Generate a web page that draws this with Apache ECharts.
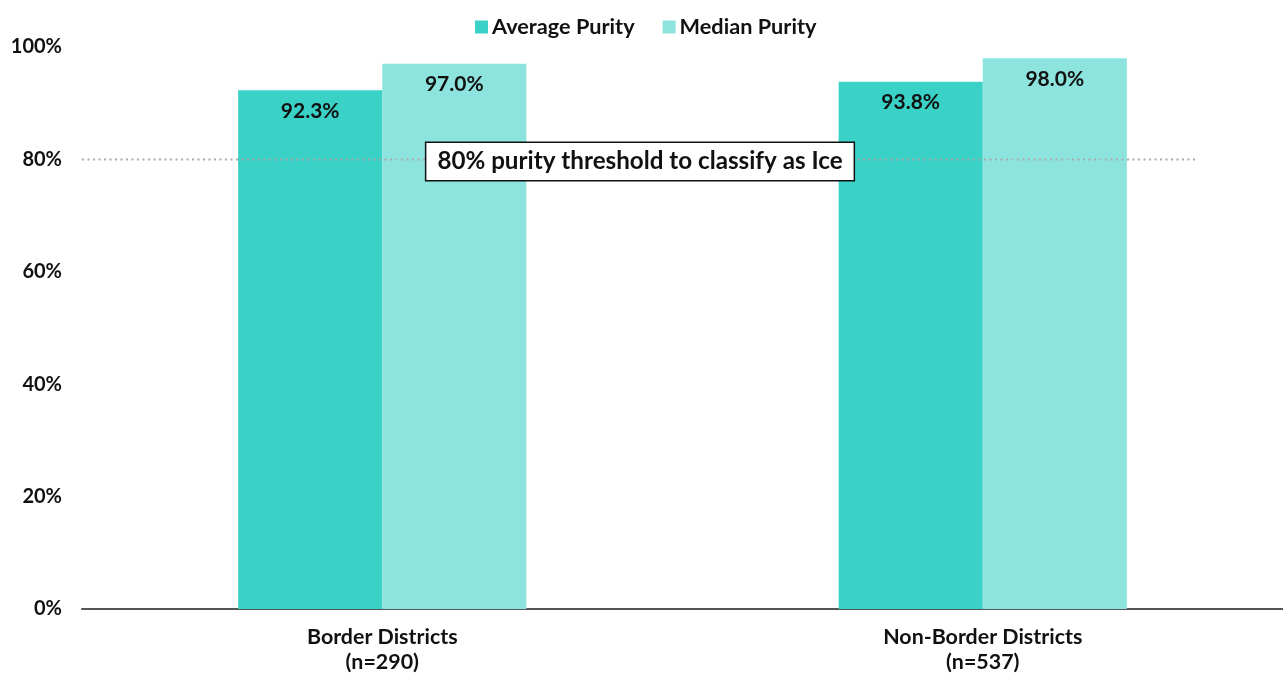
<!DOCTYPE html>
<html><head><meta charset="utf-8">
<script src="https://cdn.jsdelivr.net/npm/echarts@6/dist/echarts.min.js"></script>
<style>html,body{margin:0;padding:0;background:#fff}#c{width:1283px;height:675px}</style>
</head><body><div id="c"></div>
<script>
const categories = ['Border Districts\n(n=290)', 'Non-Border Districts\n(n=537)'];
const seriesNames = ['Average Purity', 'Median Purity'];
const averagePurity = [92.3, 93.8];
const medianPurity = [97.0, 98.0];
const yTicks = [0, 20, 40, 60, 80, 100];
const thresholdValue = 80;
const thresholdLabel = '80% purity threshold to classify as Ice';
// threshold line points on a hidden 0..1 x scale: start, label anchor, end
const thresholdX = [0, 0.4646, 0.927];

const FONT = 'Lato, "Noto Sans", sans-serif';
const chart = echarts.init(document.getElementById('c'), null, {renderer: 'canvas'});
chart.setOption({
  animation: false,
  textStyle: {fontFamily: FONT},
  legend: {
    top: 11, left: 470, itemWidth: 13, itemHeight: 13, itemGap: 28,
    icon: 'rect',
    data: seriesNames,
    textStyle: {fontFamily: FONT, fontWeight: 'bold', fontSize: 21.7, color: '#111', padding: [0, 0, 0, -1]}
  },
  grid: {left: 82, right: 0, top: 47, bottom: 66},
  xAxis: [{
    type: 'category', data: categories,
    axisLine: {lineStyle: {color: '#555', width: 2}},
    axisTick: {show: false},
    axisLabel: {fontFamily: FONT, fontWeight: 'bold', fontSize: 21.4, color: '#111', lineHeight: 25, margin: 16}
  }, {
    type: 'value', min: 0, max: 1, show: false
  }],
  yAxis: {
    type: 'value', min: 0, max: 100, interval: 20,
    splitLine: {show: false},
    axisLine: {show: false}, axisTick: {show: false},
    axisLabel: {fontFamily: FONT, fontWeight: 'bold', fontSize: 20, color: '#111', margin: 20,
      formatter: v => yTicks.includes(v) ? v + '%' : ''}
  },
  series: [{
    name: seriesNames[0], type: 'bar', data: averagePurity, barGap: '0%', barCategoryGap: '52%',
    itemStyle: {color: '#3ad1c6'},
    label: {show: true, position: 'insideTop', distance: 10, fontFamily: FONT, fontWeight: 'bold', fontSize: 21, color: '#111',
      formatter: p => p.value.toFixed(1) + '%'}
  }, {
    name: seriesNames[1], type: 'bar', data: medianPurity, barGap: '0%', barCategoryGap: '52%',
    itemStyle: {color: '#8de4de'},
    label: {show: true, position: 'insideTop', distance: 10, fontFamily: FONT, fontWeight: 'bold', fontSize: 21, color: '#111',
      formatter: p => p.value.toFixed(1) + '%'}
  }, {
    name: 'threshold', type: 'line', xAxisIndex: 1, z: 5,
    data: thresholdX.map((x, i) => ({
      value: [x, thresholdValue],
      label: i === 1 ? {
        show: true, position: 'inside', offset: [0, 2], formatter: thresholdLabel,
        fontFamily: FONT, fontWeight: 'bold', fontSize: 24.2, color: '#111',
        backgroundColor: '#fff', borderColor: '#111', borderWidth: 1.5, padding: [7, 11, 6, 11]
      } : {show: false}
    })),
    symbol: 'circle', symbolSize: 0, showSymbol: true, showAllSymbol: true, silent: true,
    lineStyle: {color: '#aaa', width: 2, type: [2, 3.5]}
  }]
});
</script></body></html>
